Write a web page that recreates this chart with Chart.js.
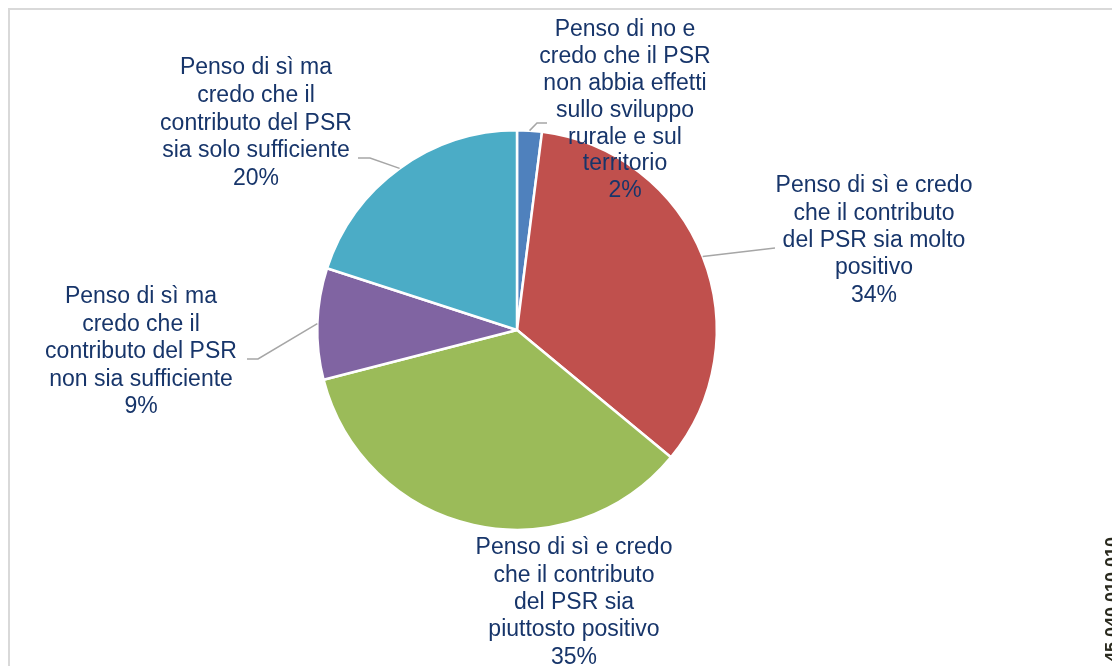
<!DOCTYPE html>
<html>
<head>
<meta charset="utf-8">
<script src="https://cdn.jsdelivr.net/npm/chart.js@4/dist/chart.umd.min.js"></script>
<style>
  html, body { margin: 0; padding: 0; background: #fff; }
  #wrap { width: 1112px; height: 666px; position: relative; }
</style>
</head>
<body>
<div id="wrap"><canvas id="pieChart" width="1112" height="666"></canvas></div>
<script>
// Categorie (già spezzate su più righe come nell'originale)
const categories = [
  ["Penso di no e", "credo che il PSR", "non abbia effetti", "sullo sviluppo", "rurale e sul", "territorio"],
  ["Penso di sì e credo", "che il contributo", "del PSR sia molto", "positivo"],
  ["Penso di sì e credo", "che il contributo", "del PSR sia", "piuttosto positivo"],
  ["Penso di sì ma", "credo che il", "contributo del PSR", "non sia sufficiente"],
  ["Penso di sì ma", "credo che il", "contributo del PSR", "sia solo sufficiente"]
];
const values = [2, 34, 35, 9, 20];
const sideCode = "45 040 010 010";

// Posizione etichette e linee guida
const labelLayout = [
  { x: 625, y: 30, lh: 26.8, leader: [[537, 123], [547, 123]] },
  { x: 874, y: 186, lh: 27.3, leader: [[775, 248]] },
  { x: 574, y: 548, lh: 27.3, leader: null },
  { x: 141, y: 297, lh: 27.5, leader: [[258, 359], [247, 359]] },
  { x: 256, y: 68, lh: 27.7, leader: [[370, 158], [358, 158]] }
];

const pieLabels = {
  id: "pieLabels",
  beforeDraw(chart) {
    const ctx = chart.ctx;
    ctx.save();
    ctx.strokeStyle = "#d9d9d9";
    ctx.lineWidth = 2;
    ctx.strokeRect(9, 9, 1120, 680);
    ctx.restore();
  },
  afterDraw(chart) {
    const ctx = chart.ctx;
    const meta = chart.getDatasetMeta(0);
    const data = chart.data.datasets[0].data;
    const total = data.reduce((a, b) => a + b, 0);
    ctx.save();
    meta.data.forEach((arc, i) => {
      const lay = labelLayout[i];
      const p = arc.getProps(["x", "y", "startAngle", "endAngle", "outerRadius"], true);
      const mid = (p.startAngle + p.endAngle) / 2;
      if (lay.leader) {
        ctx.strokeStyle = "#a6a6a6";
        ctx.lineWidth = 1.5;
        ctx.beginPath();
        ctx.moveTo(p.x + Math.cos(mid) * p.outerRadius, p.y + Math.sin(mid) * p.outerRadius);
        lay.leader.forEach(pt => ctx.lineTo(pt[0], pt[1]));
        ctx.stroke();
      }
      const lines = chart.data.labels[i].concat([Math.round(data[i] / total * 100) + "%"]);
      ctx.fillStyle = "#17356a";
      ctx.font = "23px 'Liberation Sans', Arial, sans-serif";
      ctx.textAlign = "center";
      ctx.textBaseline = "middle";
      lines.forEach((t, k) => ctx.fillText(t, lay.x, lay.y + k * lay.lh));
    });
    // codice verticale sul bordo destro
    ctx.translate(1118, 537);
    ctx.rotate(-Math.PI / 2);
    ctx.fillStyle = "#2a2a1e";
    ctx.font = "bold 18px 'Liberation Sans', Arial, sans-serif";
    ctx.textAlign = "right";
    ctx.textBaseline = "alphabetic";
    ctx.fillText(sideCode, 0, 0);
    ctx.restore();
  }
};

new Chart(document.getElementById("pieChart"), {
  type: "pie",
  data: {
    labels: categories,
    datasets: [{
      data: values,
      backgroundColor: ["#4f81bd", "#c0504d", "#9bbb59", "#8064a2", "#4bacc6"],
      borderColor: "#ffffff",
      borderWidth: 2.5
    }]
  },
  options: {
    responsive: false,
    animation: false,
    layout: { padding: { top: 129, bottom: 135, left: 316, right: 394 } },
    plugins: {
      legend: { display: false },
      tooltip: { enabled: false }
    }
  },
  plugins: [pieLabels]
});
</script>
</body>
</html>
